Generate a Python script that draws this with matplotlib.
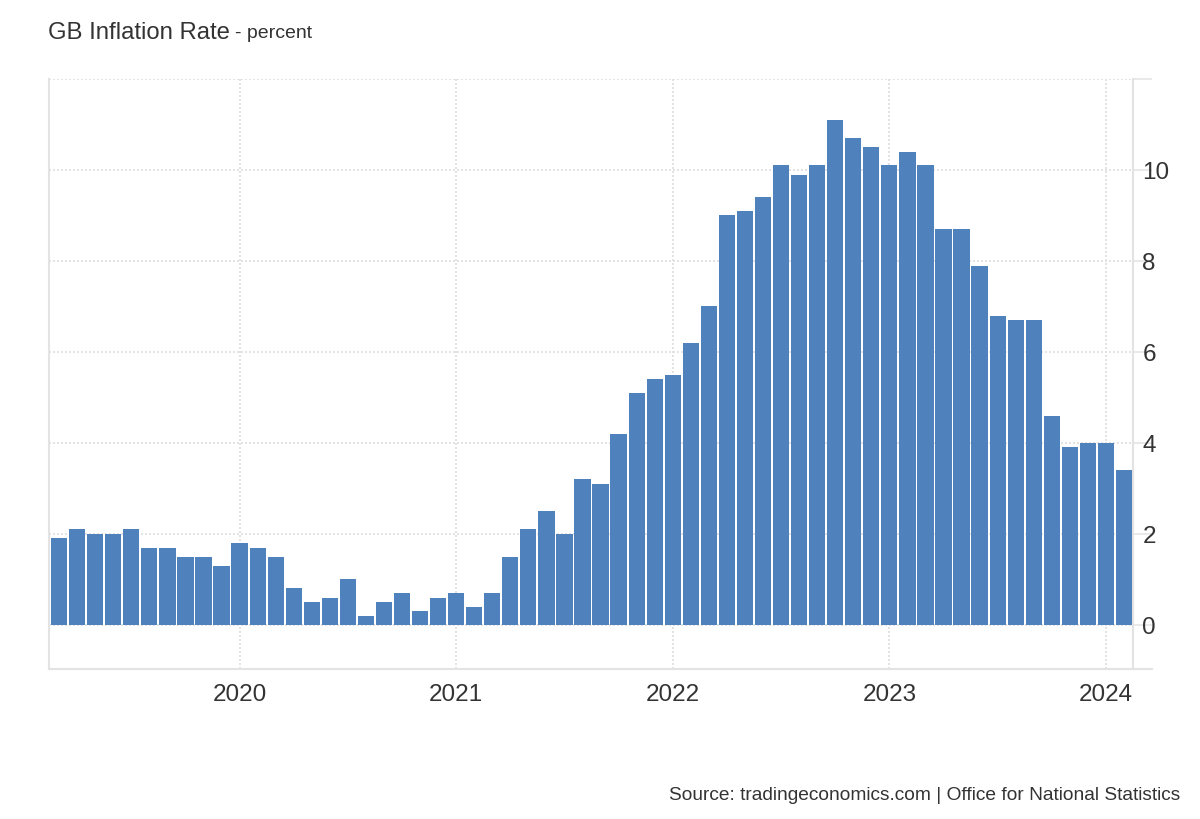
import matplotlib
matplotlib.use("Agg")
import matplotlib.pyplot as plt
from matplotlib.lines import Line2D

plt.rcParams['font.family'] = ['Liberation Sans', 'DejaVu Sans']
plt.rcParams['lines.scale_dashes'] = True

# Monthly GB CPI inflation, Mar 2019 .. Feb 2024 (percent)
months = ["2019-03", "2019-04", "2019-05", "2019-06", "2019-07", "2019-08", "2019-09", "2019-10", "2019-11", "2019-12",
          "2020-01", "2020-02", "2020-03", "2020-04", "2020-05", "2020-06", "2020-07", "2020-08", "2020-09", "2020-10", "2020-11", "2020-12",
          "2021-01", "2021-02", "2021-03", "2021-04", "2021-05", "2021-06", "2021-07", "2021-08", "2021-09", "2021-10", "2021-11", "2021-12",
          "2022-01", "2022-02", "2022-03", "2022-04", "2022-05", "2022-06", "2022-07", "2022-08", "2022-09", "2022-10", "2022-11", "2022-12",
          "2023-01", "2023-02", "2023-03", "2023-04", "2023-05", "2023-06", "2023-07", "2023-08", "2023-09", "2023-10", "2023-11", "2023-12",
          "2024-01", "2024-02"]
values = [1.9, 2.1, 2.0, 2.0, 2.1, 1.7, 1.7, 1.5, 1.5, 1.3,
          1.8, 1.7, 1.5, 0.8, 0.5, 0.6, 1.0, 0.2, 0.5, 0.7, 0.3, 0.6,
          0.7, 0.4, 0.7, 1.5, 2.1, 2.5, 2.0, 3.2, 3.1, 4.2, 5.1, 5.4,
          5.5, 6.2, 7.0, 9.0, 9.1, 9.4, 10.1, 9.9, 10.1, 11.1, 10.7, 10.5,
          10.1, 10.4, 10.1, 8.7, 8.7, 7.9, 6.8, 6.7, 6.7, 4.6, 3.9, 4.0,
          4.0, 3.4]
year_labels = ["2020", "2021", "2022", "2023", "2024"]
y_ticks = [0, 2, 4, 6, 8, 10, 12]
y_labels = ["0", "2", "4", "6", "8", "10", ""]

x = list(range(len(values)))
year_pos = [months.index(y + "-01") for y in year_labels]

fig = plt.figure(figsize=(12, 8.2), dpi=100)
ax = fig.add_axes([49/1200, 1 - 670/820, (1133 - 49)/1200, (670 - 80)/820])

ax.bar(x, values, width=0.9, color="#4f81bd", zorder=3)

ax.set_xlim(-0.56, 59.5)
ax.set_ylim(-0.97, 12)

line_color = "#e3e3e3"
ax.set_xticks(year_pos)
ax.set_xticklabels(year_labels)
ax.set_yticks(y_ticks)
ax.set_yticklabels(y_labels)
ax.yaxis.tick_right()
ax.tick_params(axis='x', length=0, pad=10, labelsize=17.5, labelcolor="#333333")
ax.tick_params(axis='y', length=13.7, width=1.1, color=line_color, pad=-7,
               labelsize=17.5, labelcolor="#333333")
for lab in ax.get_yticklabels():
    lab.set_verticalalignment('center_baseline')

ax.grid(True, linestyle=(0, (1, 1)), color=line_color, linewidth=1.44, zorder=0)

ax.spines['top'].set_visible(False)
for side in ['left', 'bottom', 'right']:
    ax.spines[side].set_color(line_color)
    ax.spines[side].set_linewidth(1.5)

# short axis end mark at the bottom right
ext = 19 / 1084
ax.add_line(Line2D([1.0, 1.0 + ext], [0, 0], transform=ax.transAxes,
                   color=line_color, linewidth=1.5, clip_on=False))

fig.text(48/1200, 1 - 33/820, "GB Inflation Rate", fontsize=17.2, color="#333333", va='center', ha='left')
fig.text(235/1200, 1 - 34/820, "- percent", fontsize=14, color="#333333", va='center', ha='left')
fig.text(1180/1200, 1 - 796/820, "Source: tradingeconomics.com | Office for National Statistics",
         fontsize=13.8, color="#333333", va='center', ha='right')

fig.savefig("out.png", dpi=100, facecolor="white")
